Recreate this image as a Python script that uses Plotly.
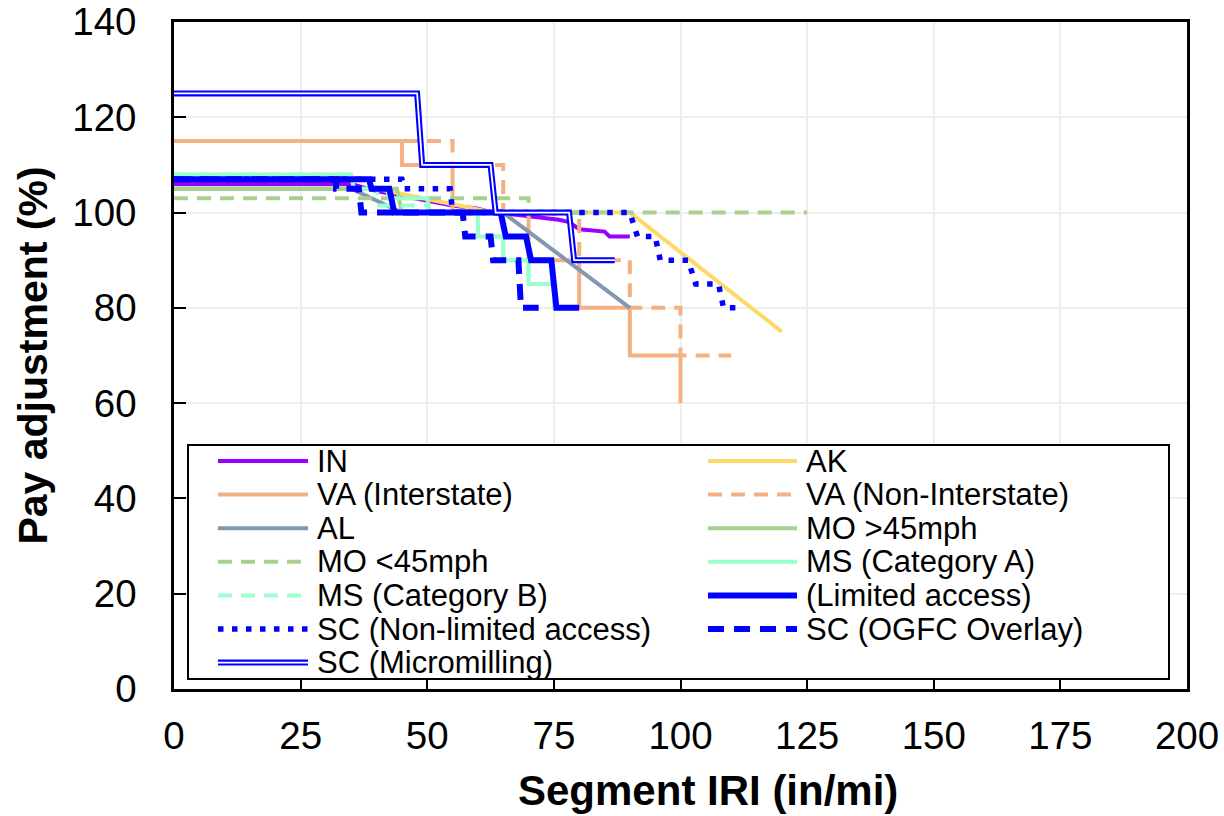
import plotly.graph_objects as go

# ---------------- data ----------------
in_x = [0, 35, 40, 45, 50, 55, 60, 63, 68, 72, 76, 78, 80, 85, 86, 90]
in_y = [106, 106, 104.5, 103.5, 102.5, 101.5, 100.8, 100, 99.5, 99, 98.5, 98, 96.5, 96, 95, 95]

ak_x = [0, 40, 63, 90, 120]
ak_y = [105, 105, 100, 100, 75]

va_i_x = [0, 45, 45, 55, 55, 70, 70, 80, 80, 90, 90, 100, 100]
va_i_y = [115, 115, 110, 110, 100, 100, 90, 90, 80, 80, 70, 70, 60]

va_ni_x = [0, 55, 55, 65, 65, 80, 80, 90, 90, 100, 100, 110]
va_ni_y = [115, 115, 110, 110, 100, 100, 90, 90, 80, 80, 70, 70]

al_x = [0, 35, 45, 65, 90]
al_y = [105, 105, 100, 100, 80]

mo_hi_x = [0, 44, 45, 80]
mo_hi_y = [105, 105, 100, 100]

mo_lo_x = [0, 70, 70, 125]
mo_lo_y = [103, 103, 100, 100]

ms_a_x = [0, 35, 35.5, 42, 42.5, 50, 50.5, 60, 60, 65, 65, 70, 70, 75, 75, 77]
ms_a_y = [108, 108, 105, 105, 103, 103, 100, 100, 95, 95, 90, 90, 85, 85, 80, 80]

ms_b_x = [0, 35, 35.5, 40, 40.5, 50, 50.5, 60, 60, 65, 65, 70, 70, 75, 75, 77]
ms_b_y = [108, 108, 105, 105, 101.5, 101.5, 100, 100, 95, 95, 90, 90, 85, 85, 80, 80]

sc_la_x = [0, 38.5, 39, 42.5, 43.5, 64.5, 65.5, 69.5, 70.5, 74.5, 75.5, 80]
sc_la_y = [107, 107, 105, 105, 100, 100, 95, 95, 90, 90, 80, 80]

sc_nl_x = [0, 45, 45.5, 54.5, 55, 90, 91.5, 95, 96, 101.5, 103, 107.5, 108.5, 111]
sc_nl_y = [107, 107, 105, 105, 100, 100, 95, 95, 90, 90, 85, 85, 80, 80]

sc_ogfc_x = [0, 32, 32, 36.5, 37, 57, 57.5, 62.5, 63, 68, 68.5, 72]
sc_ogfc_y = [107, 107, 105, 105, 100, 100, 95, 95, 90, 90, 80, 80]

sc_mm_x = [0, 48, 49, 62.5, 63.5, 78, 79, 87]
sc_mm_y = [125, 125, 110, 110, 100, 100, 90, 90]

names = ["IN", "AK", "VA (Interstate)", "VA (Non-Interstate)", "AL", "MO >45mph",
         "MO <45mph", "MS (Category A)", "MS (Category B)", "(Limited access)",
         "SC (Non-limited access)", "SC (OGFC Overlay)", "SC (Micromilling)"]
xs_all = [in_x, ak_x, va_i_x, va_ni_x, al_x, mo_hi_x, mo_lo_x, ms_a_x, ms_b_x,
          sc_la_x, sc_nl_x, sc_ogfc_x, sc_mm_x]
ys_all = [in_y, ak_y, va_i_y, va_ni_y, al_y, mo_hi_y, mo_lo_y, ms_a_y, ms_b_y,
          sc_la_y, sc_nl_y, sc_ogfc_y, sc_mm_y]

x_ticks = [0, 25, 50, 75, 100, 125, 150, 175, 200]
y_ticks = [0, 20, 40, 60, 80, 100, 120, 140]

x_title = "Segment IRI (in/mi)"
y_title = "Pay adjustment (%)"

# ---------------- styles ----------------
PURPLE = "#9900FF"; GOLD = "#FFD966"; ORANGE = "#F4B183"; SLATE = "#8497B0"
GREEN = "#A9D18E"; AQUA = "#99FFCC"; BLUE = "#0000FF"
styles = [
    dict(color=PURPLE, width=4, dash="solid"),
    dict(color=GOLD, width=4, dash="solid"),
    dict(color=ORANGE, width=4, dash="solid"),
    dict(color=ORANGE, width=4, dash="14px,9px"),
    dict(color=SLATE, width=4, dash="solid"),
    dict(color=GREEN, width=4, dash="solid"),
    dict(color=GREEN, width=4, dash="14px,9px"),
    dict(color=AQUA, width=4, dash="solid"),
    dict(color=AQUA, width=4, dash="14px,9px"),
    dict(color=BLUE, width=6, dash="solid"),
    dict(color=BLUE, width=5.5, dash="5.5px,8.5px"),
    dict(color=BLUE, width=6, dash="16px,10px"),
    dict(color=BLUE, width=6, dash="solid", double=True),
]

W, H = 1224, 816
ML, MR, MT, MB = 174, 37, 22, 127
PW, PH = W - ML - MR, H - MT - MB
FONT = "Liberation Sans, Arial, sans-serif"


def px2paper(px, py):
    return (px - ML) / PW, 1 - (py - MT) / PH


fig = go.Figure()
for name, xs, ys, st in zip(names, xs_all, ys_all, styles):
    fig.add_trace(go.Scatter(x=xs, y=ys, mode="lines", name=name, showlegend=False,
                             line=dict(color=st["color"], width=st["width"], dash=st["dash"])))
    if st.get("double"):
        fig.add_trace(go.Scatter(x=xs, y=ys, mode="lines", name=name + " inner",
                                 showlegend=False, hoverinfo="skip",
                                 line=dict(color="white", width=1.8)))

# ---------------- manual legend ----------------
shapes = []
annotations = []
bx0, by0 = px2paper(188, 445)
bx1, by1 = px2paper(1169, 679)
shapes.append(dict(type="rect", xref="paper", yref="paper", x0=bx0, y0=by0, x1=bx1, y1=by1,
                   line=dict(color="black", width=2), fillcolor="white", layer="above"))
col_sample = [(218, 308), (708, 797)]
col_text = [315, 804]
row0, row_step = 461, 33.6
for i, (name, st) in enumerate(zip(names, styles)):
    r, c = divmod(i, 2)
    py = row0 + r * row_step
    sx0, sy = px2paper(col_sample[c][0], py)
    sx1, _ = px2paper(col_sample[c][1], py)
    shapes.append(dict(type="line", xref="paper", yref="paper", x0=sx0, x1=sx1, y0=sy, y1=sy,
                       line=dict(color=st["color"], width=st["width"], dash=st["dash"]),
                       layer="above"))
    if st.get("double"):
        shapes.append(dict(type="line", xref="paper", yref="paper", x0=sx0, x1=sx1, y0=sy, y1=sy,
                           line=dict(color="white", width=1.8), layer="above"))
    tx, ty = px2paper(col_text[c], py)
    annotations.append(dict(x=tx, y=ty, xref="paper", yref="paper", text=name, showarrow=False,
                            xanchor="left", yanchor="middle",
                            font=dict(family=FONT, size=31, color="black")))

# x-axis title (centred as in the reference, slightly right of plot centre)
tx, ty = px2paper(708, 791)
annotations.append(dict(x=tx, y=ty, xref="paper", yref="paper", text=x_title, showarrow=False,
                        xanchor="center", yanchor="middle",
                        font=dict(family=FONT, size=42, color="black", weight="bold")))

axis_common = dict(
    showline=True, linecolor="black", linewidth=2.5, mirror=True,
    ticks="inside", ticklen=12, tickwidth=2, tickcolor="black",
    showgrid=True, gridcolor="#EEEEEE", gridwidth=2, zeroline=False,
    tickfont=dict(family=FONT, size=38.5, color="black"),
)

fig.update_layout(
    width=W, height=H,
    margin=dict(l=ML, r=MR, t=MT, b=MB, autoexpand=False),
    paper_bgcolor="white", plot_bgcolor="white",
    showlegend=False,
    xaxis=dict(range=[0, 200], tickvals=x_ticks, ticktext=[str(v) for v in x_ticks],
               ticklabelstandoff=11, **axis_common),
    yaxis=dict(range=[0, 140], tickvals=y_ticks, ticktext=[str(v) for v in y_ticks],
               ticklabelstandoff=27,
               title=dict(text=y_title, standoff=12,
                          font=dict(family=FONT, size=41, color="black", weight="bold")),
               **axis_common),
    shapes=shapes,
    annotations=annotations,
)

fig.write_html("out.html")
